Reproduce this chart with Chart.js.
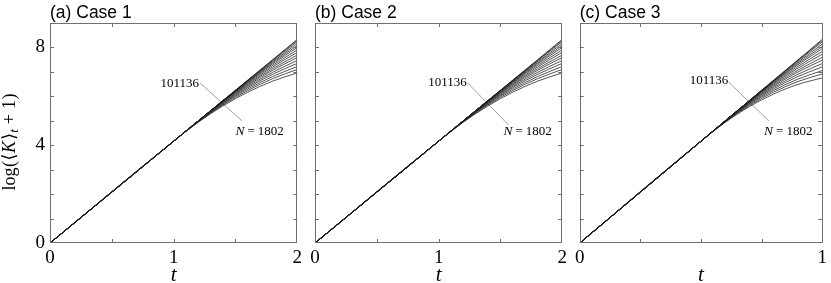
<!DOCTYPE html>
<html>
<head>
<meta charset="utf-8">
<script src="https://cdn.jsdelivr.net/npm/chart.js@4.4.1/dist/chart.umd.min.js"></script>
<style>
html,body{margin:0;padding:0;background:#fff;}
#wrap{position:relative;width:831px;height:283px;overflow:hidden;background:#fff;}
.pan{position:absolute;top:0;height:283px;}
</style>
</head>
<body>
<div id="wrap">
  <div class="pan" style="left:0px;width:306px"><canvas id="ca" width="306" height="283"></canvas></div>
  <div class="pan" style="left:306px;width:265px"><canvas id="cb" width="265" height="283"></canvas></div>
  <div class="pan" style="left:571px;width:260px"><canvas id="cc" width="260" height="283"></canvas></div>
</div>
<script>
// ---- data ----
const panelTitles = ['(a) Case 1', '(b) Case 2', '(c) Case 3'];
const xTicksAB = [0, 1, 2];
const xTicksC = [0, 1];
const yTickLabels = [0, 4, 8];
const labelLargeN = '101136';
const labelSmallN = '1802';

// time samples
const tAB = [0, 1, 1.2, 1.4, 1.6, 1.8, 2];
const tC = [0, 0.5, 0.6, 0.7, 0.8, 0.9, 1];

// log(<K>_t + 1), curves from N = 101136 (top) down to N = 1802 (bottom)
const curvesA = [
  [0, 4.165, 4.998, 5.831, 6.664, 7.497, 8.330],
  [0, 4.165, 4.998, 5.831, 6.659, 7.478, 8.290],
  [0, 4.165, 4.998, 5.830, 6.650, 7.453, 8.240],
  [0, 4.165, 4.998, 5.828, 6.634, 7.411, 8.160],
  [0, 4.165, 4.998, 5.825, 6.616, 7.368, 8.080],
  [0, 4.165, 4.998, 5.819, 6.594, 7.321, 8.000],
  [0, 4.165, 4.998, 5.810, 6.565, 7.261, 7.900],
  [0, 4.165, 4.998, 5.798, 6.532, 7.199, 7.800],
  [0, 4.165, 4.997, 5.782, 6.492, 7.128, 7.690],
  [0, 4.165, 4.994, 5.763, 6.452, 7.061, 7.590],
  [0, 4.165, 4.989, 5.740, 6.403, 6.980, 7.470],
  [0, 4.165, 4.984, 5.717, 6.356, 6.900, 7.350],
  [0, 4.165, 4.973, 5.686, 6.298, 6.809, 7.220],
  [0, 4.165, 4.960, 5.652, 6.239, 6.722, 7.100],
  [0, 4.165, 4.943, 5.612, 6.171, 6.620, 6.960]
];
const curvesB = [
  [0, 4.165, 4.998, 5.831, 6.664, 7.497, 8.330],
  [0, 4.165, 4.998, 5.831, 6.659, 7.478, 8.290],
  [0, 4.165, 4.998, 5.830, 6.650, 7.453, 8.240],
  [0, 4.165, 4.998, 5.828, 6.634, 7.411, 8.160],
  [0, 4.165, 4.998, 5.825, 6.616, 7.368, 8.080],
  [0, 4.165, 4.998, 5.819, 6.594, 7.321, 8.000],
  [0, 4.165, 4.998, 5.810, 6.565, 7.261, 7.900],
  [0, 4.165, 4.998, 5.798, 6.532, 7.199, 7.800],
  [0, 4.165, 4.997, 5.782, 6.492, 7.128, 7.690],
  [0, 4.165, 4.994, 5.763, 6.452, 7.061, 7.590],
  [0, 4.165, 4.989, 5.740, 6.403, 6.980, 7.470],
  [0, 4.165, 4.984, 5.717, 6.356, 6.900, 7.350],
  [0, 4.165, 4.973, 5.686, 6.298, 6.809, 7.220],
  [0, 4.165, 4.960, 5.652, 6.239, 6.722, 7.100],
  [0, 4.165, 4.943, 5.612, 6.171, 6.620, 6.960]
];
const curvesC = [
  [0, 4.165, 4.998, 5.831, 6.664, 7.497, 8.330],
  [0, 4.165, 4.998, 5.831, 6.658, 7.476, 8.284],
  [0, 4.165, 4.998, 5.830, 6.648, 7.447, 8.227],
  [0, 4.165, 4.998, 5.828, 6.630, 7.398, 8.135],
  [0, 4.165, 4.998, 5.824, 6.609, 7.349, 8.043],
  [0, 4.165, 4.998, 5.817, 6.584, 7.295, 7.951],
  [0, 4.165, 4.998, 5.807, 6.550, 7.226, 7.836],
  [0, 4.165, 4.998, 5.793, 6.512, 7.154, 7.721],
  [0, 4.165, 4.997, 5.775, 6.466, 7.073, 7.594],
  [0, 4.165, 4.994, 5.753, 6.421, 6.996, 7.479],
  [0, 4.165, 4.988, 5.726, 6.364, 6.903, 7.341],
  [0, 4.165, 4.982, 5.700, 6.310, 6.811, 7.203],
  [0, 4.165, 4.970, 5.664, 6.243, 6.706, 7.054],
  [0, 4.165, 4.955, 5.625, 6.176, 6.606, 6.916],
  [0, 4.165, 4.935, 5.579, 6.097, 6.489, 6.755]
];

// annotation anchors (data coordinates): [t, y]
const leaderA = [[1.215, 6.54], [1.554, 4.99]];
const leaderB = [[1.236, 6.54], [1.567, 4.82]];
const leaderC = [[0.614, 6.58], [0.781, 4.98]];
const labelPosA = {large: [1.205, 6.53], small: [1.50, 4.55]};
const labelPosB = {large: [1.228, 6.57], small: [1.525, 4.55]};
const labelPosC = {large: [0.612, 6.65], small: [0.760, 4.55]};

// ---- drawing ----
const SERIF = '"Liberation Serif", "DejaVu Serif", serif';
const SANS = '"Liberation Sans", Arial, sans-serif';
const FRAME = '#707070';

const panelPlugin = {
  id: 'panel',
  afterDraw(chart, args, opts) {
    const ctx = chart.ctx, ca = chart.chartArea;
    const xs = chart.scales.x, ys = chart.scales.y;
    ctx.save();
    // frame
    ctx.strokeStyle = FRAME; ctx.lineWidth = 1;
    ctx.strokeRect(Math.round(ca.left) + 0.5, Math.round(ca.top) + 0.5,
                   Math.round(ca.right - ca.left) - 1, Math.round(ca.bottom - ca.top) - 1);
    // inward ticks on four sides
    const tl = 4;
    ctx.beginPath();
    xs.ticks.forEach(tk => {
      if (tk.value <= xs.min || tk.value >= xs.max) return;
      const px = Math.round(xs.getPixelForValue(tk.value)) + 0.5;
      ctx.moveTo(px, ca.bottom); ctx.lineTo(px, ca.bottom - tl);
      ctx.moveTo(px, ca.top); ctx.lineTo(px, ca.top + tl);
    });
    ys.ticks.forEach(tk => {
      if (tk.value <= ys.min || tk.value >= ys.max) return;
      const py = Math.round(ys.getPixelForValue(tk.value)) + 0.5;
      ctx.moveTo(ca.left, py); ctx.lineTo(ca.left + tl, py);
      ctx.moveTo(ca.right, py); ctx.lineTo(ca.right - tl, py);
    });
    ctx.stroke();

    // panel title
    ctx.fillStyle = '#000';
    ctx.font = '17.5px ' + SANS;
    ctx.textAlign = 'left'; ctx.textBaseline = 'alphabetic';
    ctx.fillText(opts.title, ca.left, 18);

    // x axis title
    ctx.font = 'italic 21px ' + SERIF;
    ctx.textAlign = 'center';
    ctx.fillText('t', (ca.left + ca.right) / 2, 281);

    // annotations
    const lp = opts.labels;
    ctx.font = '13px ' + SERIF;
    ctx.textAlign = 'right'; ctx.textBaseline = 'middle';
    ctx.fillText(labelLargeN, xs.getPixelForValue(lp.large[0]), ys.getPixelForValue(lp.large[1]));
    let x0 = xs.getPixelForValue(lp.small[0]);
    const y0 = ys.getPixelForValue(lp.small[1]);
    ctx.textAlign = 'left';
    ctx.font = 'italic 13.5px ' + SERIF;
    ctx.fillText('N', x0, y0);
    x0 += ctx.measureText('N').width + 3;
    ctx.font = '13px ' + SERIF;
    ctx.fillText('=', x0, y0);
    x0 += ctx.measureText('=').width + 3;
    ctx.fillText(labelSmallN, x0, y0);

    // y axis title (only first panel)
    if (opts.yTitle) {
      ctx.save();
      ctx.translate(15, 142);
      ctx.rotate(-Math.PI / 2);
      ctx.textAlign = 'left'; ctx.textBaseline = 'alphabetic';
      const pieces = [
        {t: 'log', f: '18px ' + SERIF, dy: 0, gap: 0.5},
        {t: '(', f: '18px ' + SERIF, dy: 0, gap: 0.5},
        {t: '\u27E8', f: '18px ' + SERIF, dy: 0, gap: 0.5},
        {t: 'K', f: 'italic 18px ' + SERIF, dy: 0, gap: 1},
        {t: '\u27E9', f: '18px ' + SERIF, dy: 0, gap: 0},
        {t: 't', f: 'italic 13px ' + SERIF, dy: 3, gap: 5},
        {t: '+', f: '18px ' + SERIF, dy: 0, gap: 5},
        {t: '1', f: '18px ' + SERIF, dy: 0, gap: 0.5},
        {t: ')', f: '18px ' + SERIF, dy: 0, gap: 0}
      ];
      let total = 0;
      pieces.forEach(p => { ctx.font = p.f; p.w = ctx.measureText(p.t).width; total += p.w + p.gap; });
      let x = -total / 2;
      pieces.forEach(p => { ctx.font = p.f; ctx.fillText(p.t, x, p.dy); x += p.w + p.gap; });
      ctx.restore();
    }
    ctx.restore();
  }
};

function buildDatasets(tArr, curves, leader) {
  const ds = curves.map(c => ({
    data: c.map((v, i) => ({x: tArr[i], y: v})),
    borderColor: 'rgba(30,30,30,0.85)',
    borderWidth: 0.9,
    pointRadius: 0,
    cubicInterpolationMode: 'monotone',
    fill: false
  }));
  ds.push({
    data: leader.map(p => ({x: p[0], y: p[1]})),
    borderColor: '#a0a0a0',
    borderWidth: 1,
    pointRadius: 0,
    fill: false
  });
  return ds;
}

function makeChart(id, cfg) {
  new Chart(document.getElementById(id), {
    type: 'line',
    data: {datasets: buildDatasets(cfg.t, cfg.curves, cfg.leader)},
    options: {
      responsive: false,
      animation: false,
      events: [],
      layout: {autoPadding: false, padding: {top: 23, right: cfg.padRight, left: 0, bottom: 0}},
      plugins: {
        legend: {display: false},
        tooltip: {enabled: false},
        panel: {title: cfg.title, yTitle: cfg.yTitle, labels: cfg.labels}
      },
      scales: {
        x: {
          type: 'linear', min: 0, max: cfg.xMax,
          grid: {display: false, drawTicks: false},
          border: {display: false},
          ticks: {
            stepSize: cfg.xStep, autoSkip: false, maxRotation: 0, padding: 4,
            color: '#000', font: {family: SERIF, size: 19},
            callback: v => (cfg.xLabels.includes(v) ? String(v) : '')
          },
          afterFit: s => { s.height = 40; }
        },
        y: {
          type: 'linear', min: 0, max: 9,
          grid: {display: false, drawTicks: false},
          border: {display: false},
          ticks: {
            stepSize: 1, autoSkip: false, padding: 5,
            color: '#000', font: {family: SERIF, size: 19},
            callback: v => (cfg.yTitle && yTickLabels.includes(v) ? String(v) : '')
          },
          afterFit: s => { s.width = cfg.yWidth; }
        }
      }
    },
    plugins: [panelPlugin]
  });
}

makeChart('ca', {t: tAB, curves: curvesA, leader: leaderA, labels: labelPosA, title: panelTitles[0],
  yTitle: true, xMax: 2, xStep: 0.5, xLabels: xTicksAB, yWidth: 50, padRight: 8});
makeChart('cb', {t: tAB, curves: curvesB, leader: leaderB, labels: labelPosB, title: panelTitles[1],
  yTitle: false, xMax: 2, xStep: 0.5, xLabels: xTicksAB, yWidth: 9, padRight: 8});
makeChart('cc', {t: tC, curves: curvesC, leader: leaderC, labels: labelPosC, title: panelTitles[2],
  yTitle: false, xMax: 1, xStep: 0.25, xLabels: xTicksC, yWidth: 8, padRight: 3});
</script>
</body>
</html>
